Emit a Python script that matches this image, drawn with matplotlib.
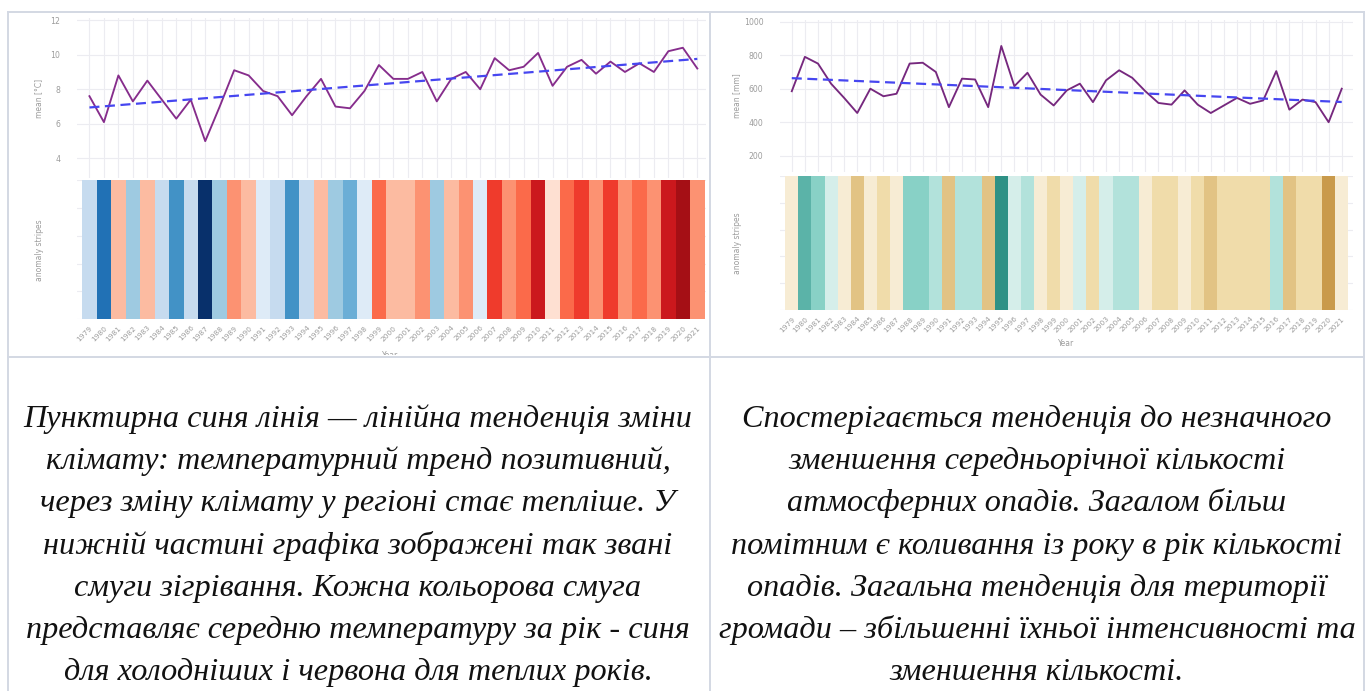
"""
Climate panels: mean temperature and precipitation with trend and anomaly stripes,
plus Ukrainian captions below.
"""

import matplotlib

matplotlib.use("Agg")
import matplotlib.pyplot as plt
import numpy as np
from matplotlib.lines import Line2D

W, H = 1365, 691

years = list(range(1979, 2022))

# mean annual temperature, degC
temp_mean = [7.6, 6.1, 8.8, 7.3, 8.5, 7.4, 6.3, 7.4, 5.0, 7.0,
             9.1, 8.8, 7.9, 7.6, 6.5, 7.6, 8.6, 7.0, 6.9, 7.9,
             9.4, 8.6, 8.6, 9.0, 7.3, 8.6, 9.0, 8.0, 9.8, 9.1,
             9.3, 10.1, 8.2, 9.3, 9.7, 8.9, 9.6, 9.0, 9.5, 9.0,
             10.2, 10.4, 9.2]

# annual precipitation, mm
precip_mean = [585, 790, 750, 630, 545, 455, 600, 555, 570, 750,
               755, 700, 490, 660, 655, 490, 855, 615, 695, 565,
               500, 590, 630, 520, 650, 710, 665, 585, 515, 505,
               590, 505, 455, 500, 545, 510, 530, 705, 475, 535,
               520, 400, 600]

# anomaly class per year (negative = cold / dry, positive = warm / wet)
temp_class = [-2, -6, 2, -3, 2, -2, -5, -2, -8, -3,
              3, 2, -1, -2, -5, -2, 2, -3, -4, -1,
              4, 2, 2, 3, -3, 2, 3, -1, 5, 3,
              4, 6, 1, 4, 5, 3, 5, 3, 4, 3,
              6, 7, 3]

precip_class = [-1, 4, 3, 1, -1, -3, -1, -2, -1, 3,
                3, 2, -3, 2, 2, -3, 5, 1, 2, -1,
                -2, -1, 1, -2, 1, 2, 2, -1, -2, -2,
                -1, -2, -3, -2, -2, -2, -2, 2, -3, -2,
                -2, -4, -1]

left_caption = [
    "Пунктирна синя лінія — лінійна тенденція зміни",
    "клімату: температурний тренд позитивний,",
    "через зміну клімату у регіоні стає тепліше. У",
    "нижній частині графіка зображені так звані",
    "смуги зігрівання. Кожна кольорова смуга",
    "представляє середню температуру за рік - синя",
    "для холодніших і червона для теплих років.",
]

right_caption = [
    "Спостерігається тенденція до незначного",
    "зменшення середньорічної кількості",
    "атмосферних опадів. Загалом більш",
    "помітним є коливання із року в рік кількості",
    "опадів. Загальна тенденція для території",
    "громади – збільшенні їхньої інтенсивності та",
    "зменшення кількості.",
]

# stripe palettes
BLUES = ["#deebf7", "#c6dbef", "#9ecae1", "#6baed6", "#4292c6", "#2171b5", "#08519c", "#08306b"]
REDS = ["#fee0d2", "#fcbba1", "#fc9272", "#fb6a4a", "#ef3b2c", "#cb181d", "#a50f15", "#67000d"]
WET = ["#d5eeea", "#b2e2db", "#88d1c6", "#5bb3a8", "#2e9185"]
DRY = ["#f7ecd4", "#f0dcaa", "#e2c384", "#c99a4b"]

GRID = "#ececf1"
TICK = "#9c9c9c"
BORDER = "#d3d8e3"


def box(x0, y0, x1, y1):
    """pixel box (top-left origin) -> figure rect"""
    return [x0 / W, 1 - y1 / H, (x1 - x0) / W, (y1 - y0) / H]


def class_color(c, neg, pos):
    return neg[-c - 1] if c < 0 else pos[c - 1]


def draw_panel(fig, cell, top, stripes, xlim, ylim, yticks, values, classes,
               neg, pos, ylabel, line_color, lab_x, year_xy):
    # background axes of the cell, used to clip the half-hidden "Year" label
    bg = fig.add_axes(box(*cell))
    bg.set_axis_off()

    yrs = np.array(years)
    vals = np.array(values)

    ax = fig.add_axes(box(*top))
    ax.plot(yrs, vals, color=line_color, lw=1.35, zorder=3)
    k, b = np.polyfit(yrs, vals, 1)
    ax.plot(yrs, k * yrs + b, color="#4646f0", lw=1.6, ls=(0, (4.5, 2.5)), zorder=4)
    ax.set_xlim(*xlim)
    ax.set_ylim(*ylim)
    ax.set_xticks(years)
    ax.set_yticks(yticks)
    ax.tick_params(axis="x", length=0, labelbottom=False)
    ax.tick_params(axis="y", length=0, labelsize=5.6, labelcolor=TICK, pad=12)
    ax.grid(True, color=GRID, lw=0.8)
    ax.set_axisbelow(True)
    for s in ax.spines.values():
        s.set_visible(False)

    ax2 = fig.add_axes(box(*stripes))
    cols = [class_color(c, neg, pos) for c in classes]
    ax2.bar(yrs, 1.0, width=1.0, bottom=0, color=cols, lw=0, zorder=3)
    ax2.set_xlim(*xlim)
    ax2.set_ylim(0, 1)
    ax2.set_xticks(years)
    ax2.set_xticklabels([str(y) for y in years], rotation=45, ha="right",
                        rotation_mode="anchor", fontsize=5.3, color=TICK)
    ax2.set_yticks(np.linspace(0, 1, 6))
    ax2.set_yticklabels([])
    ax2.tick_params(length=0, pad=4)
    ax2.grid(True, color=GRID, lw=0.8)
    ax2.set_axisbelow(True)
    for s in ax2.spines.values():
        s.set_visible(False)

    top_mid = (top[1] + top[3]) / 2
    str_mid = (stripes[1] + stripes[3]) / 2
    fig.text(lab_x / W, 1 - top_mid / H, ylabel, rotation=90, ha="center",
             va="center", fontsize=5.5, color=TICK)
    fig.text(lab_x / W, 1 - str_mid / H, "anomaly stripes", rotation=90,
             ha="center", va="center", fontsize=5.5, color=TICK)

    cx0, cy0, cx1, cy1 = cell
    bg.text((year_xy[0] - cx0) / (cx1 - cx0), 1 - (year_xy[1] - cy0) / (cy1 - cy0),
            "Year", transform=bg.transAxes, ha="center", va="center",
            fontsize=5.5, color=TICK, clip_on=True)


fig = plt.figure(figsize=(W / 100, H / 100), dpi=100)
fig.patch.set_facecolor("white")

# left: temperature
draw_panel(fig, cell=(10, 13, 708, 355), top=(77, 18, 706, 178),
           stripes=(77, 180.5, 706, 319),
           xlim=(1978.14, 2021.6), ylim=(2.87, 12.12), yticks=[4, 6, 8, 10, 12],
           values=temp_mean, classes=temp_class, neg=BLUES, pos=REDS,
           ylabel="mean [°C]", line_color="#862d8c", lab_x=39, year_xy=(390, 355))

# right: precipitation
draw_panel(fig, cell=(712, 13, 1362, 355), top=(780, 20, 1353, 172),
           stripes=(780, 176, 1353, 310),
           xlim=(1978.1, 2021.86), ylim=(103, 1010), yticks=[200, 400, 600, 800, 1000],
           values=precip_mean, classes=precip_class, neg=DRY, pos=WET,
           ylabel="mean [mm]", line_color="#76287e", lab_x=737, year_xy=(1066, 343))

# table borders
for x in (8, 709.5, 1363.5):
    fig.add_artist(Line2D([x / W, x / W], [0, 1 - 12 / H], color=BORDER, lw=1.4))
for y in (12, 356.5):
    fig.add_artist(Line2D([8 / W, 1], [1 - y / H, 1 - y / H], color=BORDER, lw=1.4))

# captions
cap_font = dict(family="Liberation Serif", style="italic", fontsize=23.2, color="#111111")
for i, line in enumerate(left_caption):
    fig.text(358 / W, 1 - (427 + i * 42.2) / H, line, ha="center", va="baseline", **cap_font)
for i, line in enumerate(right_caption):
    fig.text(1037 / W, 1 - (427 + i * 42.2) / H, line, ha="center", va="baseline", **cap_font)

fig.savefig("out.png", dpi=100)
plt.close(fig)
